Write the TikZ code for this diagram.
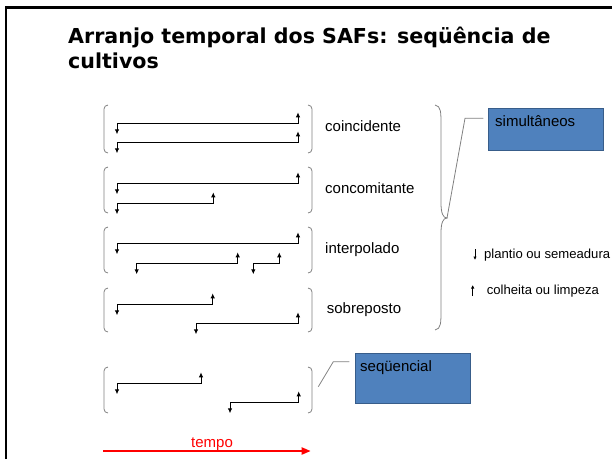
\documentclass[tikz,border=0pt]{standalone}
\usepackage{fontspec}
\setmainfont{Liberation Sans}
\newfontfamily\titlefont{DejaVu Sans}
\usetikzlibrary{arrows.meta}
\definecolor{caixaazul}{HTML}{4F81BD}
\definecolor{bordaazul}{HTML}{385D8A}
\definecolor{cinza}{HTML}{808080}

\newcommand{\cultura}[3]{\draw[cultura] (#1,#3+11) -- (#1,#3) -- (#2,#3) -- (#2,#3-11);}
\newcommand{\colchetes}[2]{%
	\draw[colchete] (108,#1) to[out=180,in=90] (104,#1+4) -- (104,#2-4) to[out=-90,in=180] (108,#2);
	\draw[colchete] (308,#1) to[out=0,in=90] (312,#1+4) -- (312,#2-4) to[out=-90,in=0] (308,#2);}

\begin{document}
\begin{tikzpicture}[x=1pt,y=-1pt,
		cultura/.style={draw=black,line width=0.9pt,{Latex[length=5pt,width=4.5pt]}-{Latex[length=5pt,width=4.5pt]}},
		colchete/.style={draw=cinza,line width=0.8pt},
		rotulo/.style={anchor=base west,inner sep=0pt,font=\fontsize{15}{18}\selectfont},
		legenda/.style={anchor=base west,inner sep=0pt,font=\fontsize{13.1}{16}\selectfont},
		titulo/.style={anchor=base west,inner sep=0pt,font=\titlefont\bfseries\fontsize{20.6}{24}\selectfont},
		caixa/.style={draw=bordaazul,fill=caixaazul,line width=0.8pt,anchor=north west,inner sep=0pt}]
		\useasboundingbox (0,0) rectangle (612,459);
		\draw [line width=2.5pt] (6,459) -- (6,7.5) -- (612,7.5);
		\node (titulo1) [titulo] at (68,43.3) {Arranjo temporal dos SAFs: seqüência de};
		\node (titulo2) [titulo] at (68,68.3) {cultivos};
		% coincidente
		\colchetes{105}{153}
		\cultura{117}{298}{123.3}
		\cultura{117}{298}{142.3}
		\node (coinc) [rotulo] at (325,131.7) {coincidente};
		% concomitante
		\colchetes{167}{213}
		\cultura{117}{298}{183.3}
		\cultura{117}{213.3}{203.3}
		\node (concom) [rotulo] at (325,193.3) {concomitante};
		% interpolado
		\colchetes{227}{273}
		\cultura{117}{298}{243.3}
		\cultura{136.7}{237.7}{263.3}
		\cultura{253.3}{279.3}{263.3}
		\node (interp) [rotulo] at (325,253.3) {interpolado};
		% sobreposto
		\colchetes{288}{332}
		\cultura{117}{212.7}{304.3}
		\cultura{196}{298}{323.3}
		\node (sobrep) [rotulo] at (326.7,313) {sobreposto};
		% sequencial
		\colchetes{367}{413}
		\cultura{117}{201}{383.3}
		\cultura{230}{298.7}{402.3}
		\coordinate (chave) at (447,218);
		\draw [colchete] (435,105) .. controls (441,106) and (441,112) .. (441,125) -- (441,203) .. controls (441,213) and (443,218) .. (chave) .. controls (443,218) and (441,223) .. (441,233) -- (441,310) .. controls (441,323) and (441,329) .. (435,330);
		\node (simult) [caixa,minimum width=115pt,minimum height=41.7pt] at (488.3,108.3) {};
		\node (simulttxt) [rotulo] at (495,126.7) {simultâneos};
		\coordinate (simultpt) at (483.3,118.3);
		\draw [colchete] (chave) -- (465,118.3) -- (simultpt);
		\node (seq) [caixa,minimum width=115pt,minimum height=50pt] at (355,353.3) {};
		\node (seqtxt) [rotulo] at (360,371.7) {seqüencial};
		\coordinate (seqbase) at (318.3,386.7);
		\coordinate (seqpt) at (349.3,361.7);
		\draw [colchete] (seqbase) -- (333.3,361.7) -- (seqpt);
		% legenda
		\draw [-{Latex[length=3.5pt,width=3.5pt]},line width=0.7pt] (475,249) -- (475,260);
		\node (plantio) [legenda] at (484,258.3) {plantio ou semeadura};
		\draw [-{Latex[length=3.5pt,width=3.5pt]},line width=0.7pt] (472.7,296) -- (472.7,285);
		\node (colheita) [legenda] at (486.7,294) {colheita ou limpeza};
		% tempo
		\draw [red,line width=2pt,-{Triangle[length=9pt,width=7pt]}] (103,451) -- (310.7,451);
		\node (tempo) [rotulo,text=red,anchor=base] at (212,447.7) {tempo};
	\end{tikzpicture}
\end{document}
